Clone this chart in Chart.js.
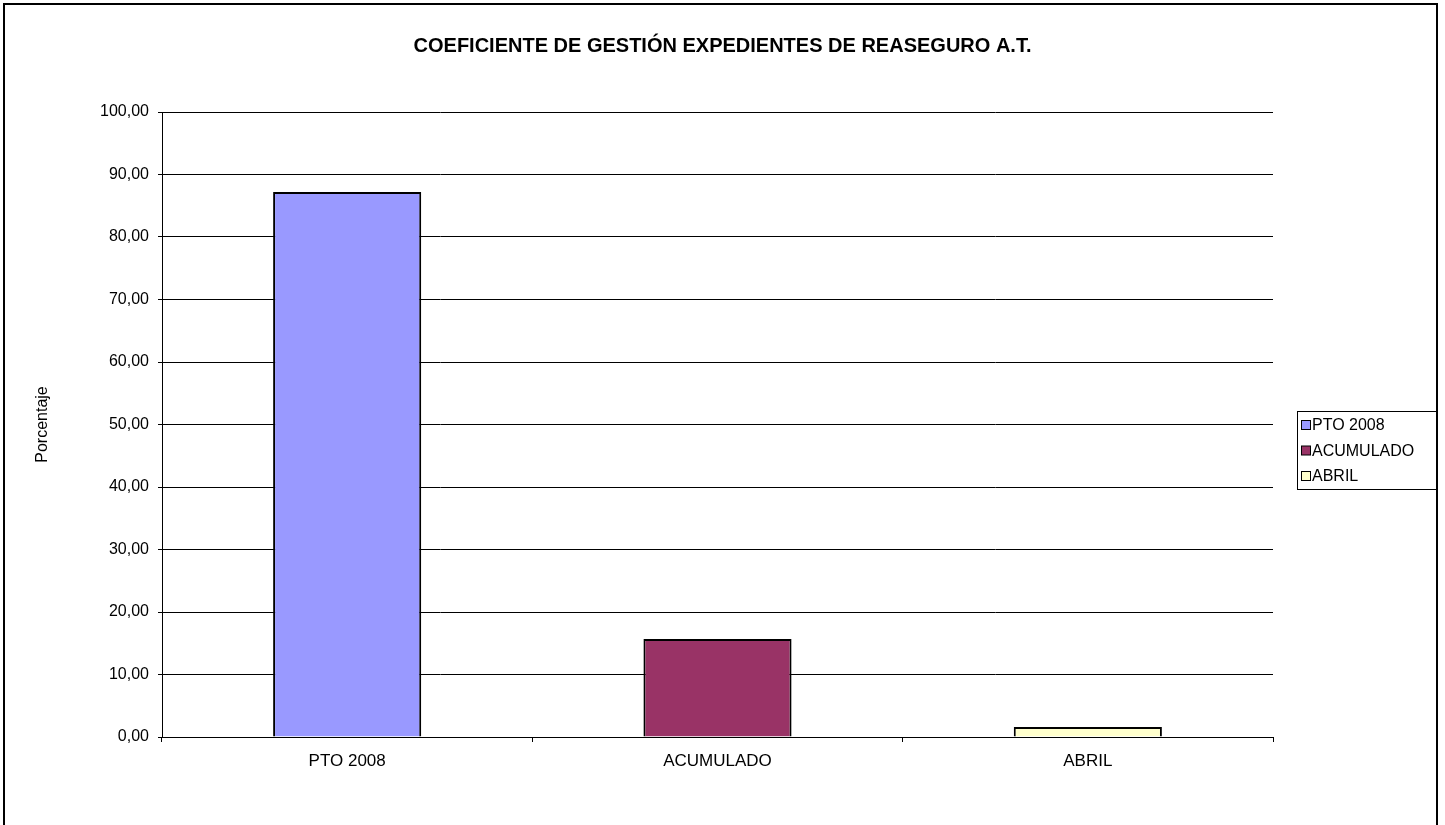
<!DOCTYPE html>
<html>
<head>
<meta charset="utf-8">
<script src="https://cdn.jsdelivr.net/npm/chart.js@4"></script>
<style>
  html, body { margin: 0; padding: 0; background: #fff; }
  #wrap { width: 1445px; height: 825px; }
</style>
</head>
<body>
<div id="wrap"><canvas id="grafico"></canvas></div>
<script>
// Datos
const categorias = ['PTO 2008', 'ACUMULADO', 'ABRIL'];
const valores = [87.2, 15.7, 1.6];
const colores = ['#9999FF', '#993366', '#FFFFCC'];
const ticksY = [0, 10, 20, 30, 40, 50, 60, 70, 80, 90, 100];

const titulo = 'COEFICIENTE DE GESTIÓN EXPEDIENTES DE REASEGURO A.T.';
const tituloEje = 'Porcentaje';

const fuente = 'Arial, "Liberation Sans", sans-serif';

// Formato con coma decimal
function formato(v) {
    return v.toFixed(2).replace('.', ',');
}

// Marco exterior y leyenda con caja
const marcoYLeyenda = {
    id: 'marcoYLeyenda',
    beforeDraw(chart) {
        const c = chart.ctx;
        c.save();
        c.fillStyle = '#fff';
        c.fillRect(0, 0, chart.width, chart.height);
        c.restore();
    },
    afterDraw(chart) {
        const c = chart.ctx;
        c.save();
        // marco
        c.strokeStyle = '#000';
        c.lineWidth = 2;
        c.strokeRect(4, 4, 1433, 900);
        // leyenda
        const x0 = 1297, y0 = 411, w = 140, h = 78;
        c.lineWidth = 1;
        c.strokeRect(x0 + 0.5, y0 + 0.5, w, h);
        c.font = '16px ' + fuente;
        c.textBaseline = 'middle';
        categorias.forEach((cat, i) => {
            const y = y0 + 14 + i * 25.5;
            c.fillStyle = colores[i];
            c.fillRect(x0 + 4.5, y - 4.5, 9, 9);
            c.strokeStyle = '#000';
            c.strokeRect(x0 + 4.5, y - 4.5, 9, 9);
            c.fillStyle = '#000';
            c.fillText(cat, x0 + 15, y + 1);
        });
        c.restore();
    }
};

const ctx = document.getElementById('grafico').getContext('2d');
const chart = new Chart(ctx, {
    type: 'bar',
    data: {
        labels: categorias,
        datasets: [{
            label: 'Porcentaje',
            data: valores,
            backgroundColor: colores,
            borderColor: '#000',
            borderWidth: 2,
            barPercentage: 0.4,
            categoryPercentage: 1.0
        }]
    },
    options: {
        responsive: true,
        maintainAspectRatio: false,
        animation: false,
        layout: {padding: 0},
        plugins: {
            legend: {display: false},
            tooltip: {enabled: false},
            title: {
                display: true,
                text: titulo,
                color: '#000',
                font: {family: fuente, size: 20, weight: 'bold'},
                padding: {top: 34, bottom: 54}
            }
        },
        scales: {
            x: {
                grid: {display: true, drawOnChartArea: false, drawTicks: true, tickLength: 5, color: '#000', offset: true},
                border: {display: true, color: '#000', width: 1},
                ticks: {color: '#000', font: {family: fuente, size: 17}, padding: 9, maxRotation: 0},
                afterFit: s => { s.height = 88; }
            },
            y: {
                min: 0,
                max: 100,
                afterBuildTicks: s => { s.ticks = ticksY.map(v => ({value: v})); },
                grid: {color: '#000', lineWidth: 1, tickLength: 4},
                border: {display: true, color: '#000', width: 1},
                ticks: {color: '#000', font: {family: fuente, size: 16}, padding: 9, callback: v => formato(v)},
                title: {display: true, text: tituloEje, color: '#000', font: {family: fuente, size: 16}, padding: {top: 33}},
                afterFit: s => { s.width = 162; }
            },
            derecha: {
                position: 'right',
                display: true,
                grid: {display: false},
                border: {display: false},
                ticks: {display: false},
                afterFit: s => { s.width = 172; }
            }
        }
    },
    plugins: [marcoYLeyenda]
});
</script>
</body>
</html>
